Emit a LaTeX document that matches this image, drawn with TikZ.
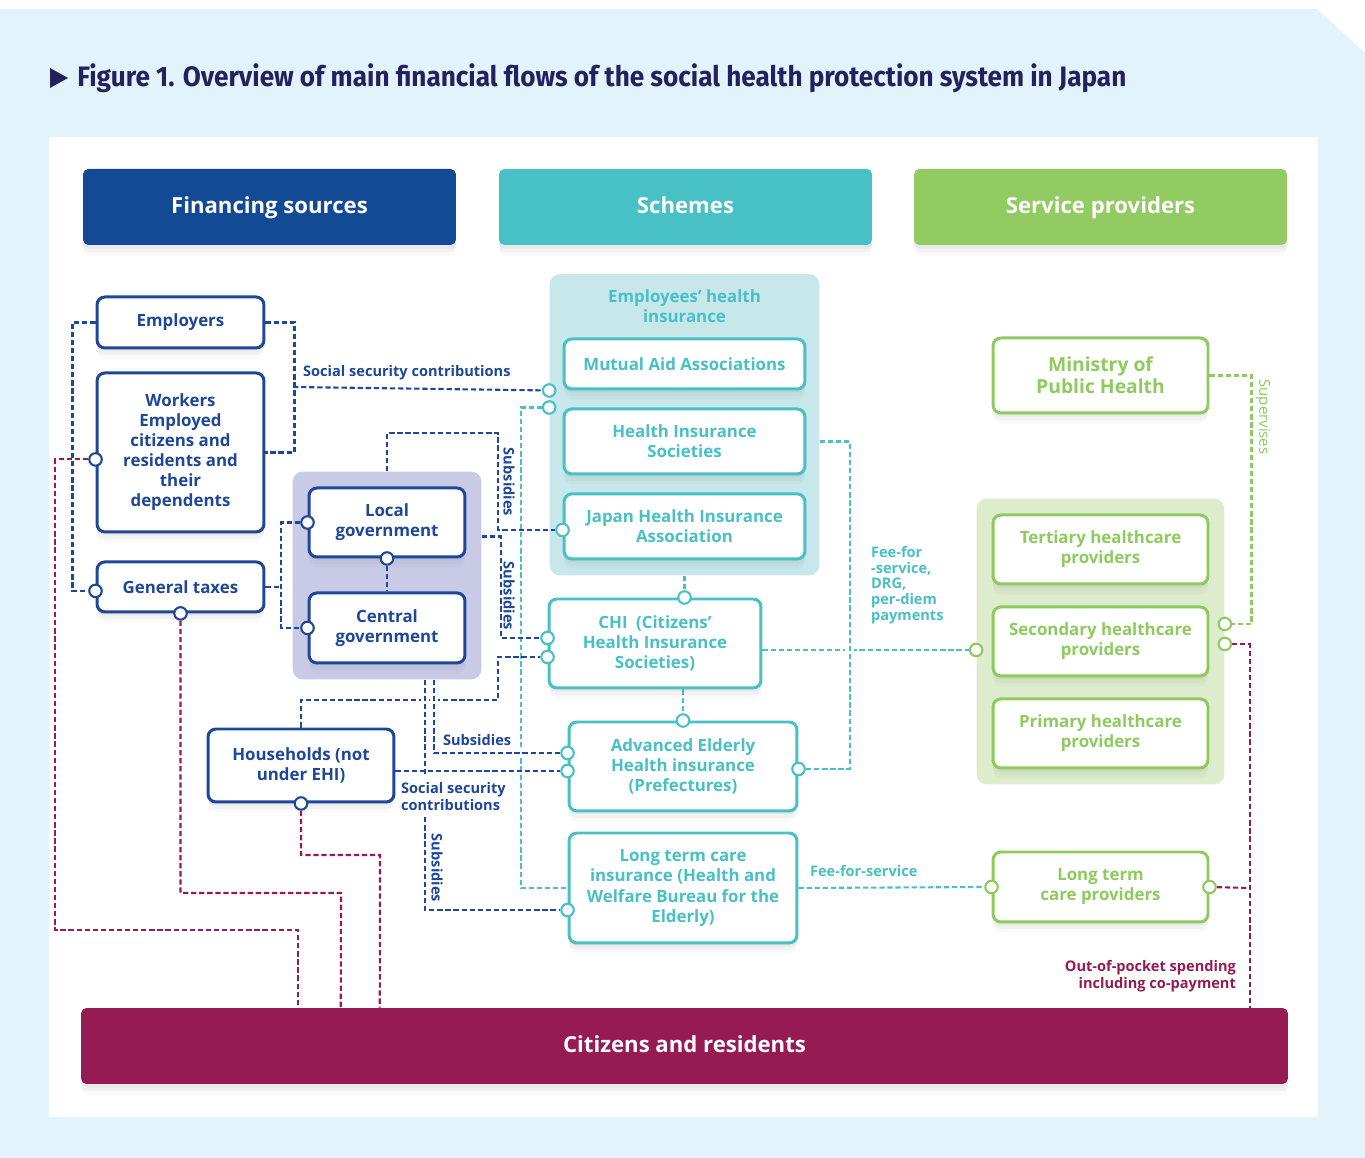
\documentclass[tikz,border=0pt]{standalone}
\usepackage{fontspec}
\setmainfont{Open Sans}
\newfontfamily\titlefont{Fira Sans}
\usepackage{graphicx}
\usepackage{xcolor}
\usetikzlibrary{positioning, fit, backgrounds, calc, shadows}

\definecolor{finblue}{HTML}{134A96}
\definecolor{lineblue}{HTML}{1E4799}
\definecolor{schteal}{HTML}{47C0C6}
\definecolor{provgreen}{HTML}{8DCB5E}
\definecolor{hdrgreen}{HTML}{93CB63}
\definecolor{citmaroon}{HTML}{951B52}
\definecolor{govlav}{HTML}{C8CAE6}
\definecolor{ehiteal}{HTML}{C7E7EA}
\definecolor{provlight}{HTML}{DDECCD}
\definecolor{pageblue}{HTML}{E3F3FB}
\definecolor{titlenavy}{HTML}{22225E}

\pgfdeclarelayer{wires}
\pgfsetlayers{background,wires,main}

\begin{document}
\begin{tikzpicture}[
    x=0.02cm, y=0.02cm,
    font=\fontsize{9.6}{11.4}\selectfont\bfseries,
    softshadow/.style = {drop shadow={shadow xshift=0pt, shadow yshift=-2pt, opacity=0.08},
                         drop shadow={shadow xshift=0pt, shadow yshift=-4pt, opacity=0.06},
                         drop shadow={shadow xshift=0pt, shadow yshift=-6pt, opacity=0.04}},
    box/.style    = {rectangle, draw=#1, line width=1.7pt, rounded corners=4.5pt,
                     fill=white, text=#1, align=center, inner sep=2pt, softshadow},
    header/.style = {rectangle, rounded corners=3pt, fill=#1, text=white,
                     minimum width=7.46cm, minimum height=1.52cm,
                     text height=9.5pt, text depth=2.5pt,
                     font=\fontsize{12.6}{15}\selectfont\bfseries, softshadow},
    group/.style  = {rectangle, rounded corners=6pt, fill=#1, inner sep=0.3cm},
    port/.style   = {circle, draw=#1, fill=white, line width=1.2pt,
                     minimum size=0.25cm, inner sep=0pt},
    flow/.style   = {draw=#1, line width=1.2pt, dash pattern=on 3pt off 1.6pt},
    cross/.style  = {preaction={draw=white, solid, line width=5pt}},
    lbl/.style    = {font=\fontsize{8.3}{9.6}\selectfont\bfseries, text=#1,
                     inner sep=1pt}
]
\useasboundingbox (0,0) rectangle (1365,1158);

% ========= page and panel =========
\begin{scope}[on background layer]
  \fill[pageblue] (0,0) -- (0,1149) -- (1317,1149) -- (1365,1105) -- (1365,0) -- cycle;
  \fill[white] (49,41) rectangle (1318,1021);
\end{scope}

% ========= title =========
\fill[titlenavy] (50,1090) -- (68,1080) -- (50,1070) -- cycle;
\node[anchor=west, text=titlenavy, inner sep=0pt] (title) at (77,1080)
    {\scalebox{0.93}[1]{\titlefont\fontsize{16}{18}\selectfont\bfseries
     Figure 1. Overview of main financial flows of the social health protection system in Japan}};

% ========= column headers =========
\node[header=finblue]   (hfin) at (269.5,951)  {Financing sources};
\node[header=schteal]   (hsch) at (685.5,951)  {Schemes};
\node[header=hdrgreen]  (hser) at (1100.5,951) {Service providers};

% ========= financing sources =========
\node[box=lineblue, minimum width=3.34cm, minimum height=1.02cm] (employers) at (180.5,835.5) {Employers};
\node[box=lineblue, minimum width=3.34cm, minimum height=3.18cm, below=0.44cm of employers] (workers)
    {Workers\\Employed\\citizens and\\residents and\\their\\dependents};
\node[box=lineblue, minimum width=3.34cm, minimum height=1.0cm, below=0.54cm of workers] (taxes) {General taxes};
\node[box=lineblue, minimum width=3.12cm, minimum height=1.38cm] (local) at (387,635.5) {Local\\government};
\node[box=lineblue, minimum width=3.12cm, minimum height=1.40cm, below=0.66cm of local] (central) {Central\\government};
\node[box=lineblue, minimum width=3.72cm, minimum height=1.46cm] (households) at (301,392.5) {Households (not\\under EHI)};

% ========= schemes =========
\node[text=schteal, inner sep=0pt, align=center] (ehititle) at (684.5,852) {Employees’ health\\insurance};
\node[box=schteal, minimum width=4.82cm, minimum height=1.0cm] (mutual) at (684.5,794) {Mutual Aid Associations};
\node[box=schteal, minimum width=4.82cm, minimum height=1.3cm, below=0.34cm of mutual] (his) {Health Insurance\\Societies};
\node[box=schteal, minimum width=4.82cm, minimum height=1.3cm, below=0.34cm of his] (jhia) {Japan Health Insurance\\Association};
\node[box=schteal, minimum width=4.24cm, minimum height=1.78cm] (chi) at (655,514.5) {CHI\enspace(Citizens’\\Health Insurance\\Societies)};
\node[box=schteal, minimum width=4.56cm, minimum height=1.78cm] (aeh) at (683,391.5) {Advanced Elderly\\Health insurance\\(Prefectures)};
\node[box=schteal, minimum width=4.56cm, minimum height=2.2cm] (ltci) at (683,270)
    {Long term care\\insurance (Health and\\Welfare Bureau for the\\Elderly)};

% ========= service providers =========
\node[box=provgreen, minimum width=4.3cm, minimum height=1.5cm, font=\fontsize{11}{12.6}\selectfont\bfseries] (ministry)
    at (1100.5,782.5) {Ministry of\\Public Health};
\node[box=provgreen, minimum width=4.3cm, minimum height=1.38cm] (tertiary) at (1100.5,608.5) {Tertiary healthcare\\providers};
\node[box=provgreen, minimum width=4.3cm, minimum height=1.38cm, below=0.4cm of tertiary] (secondary) {Secondary healthcare\\providers};
\node[box=provgreen, minimum width=4.3cm, minimum height=1.38cm, below=0.4cm of secondary] (primary) {Primary healthcare\\providers};
\node[box=provgreen, minimum width=4.3cm, minimum height=1.4cm] (ltcp) at (1100.5,271) {Long term\\care providers};

% ========= citizens =========
\node[header=citmaroon, minimum width=24.14cm] (citizens) at (684.5,112) {Citizens and residents};

% ========= group frames =========
\begin{scope}[on background layer]
  \node[group=govlav, fit=(local)(central)] (govgrp) {};
  \node[group=ehiteal, inner xsep=0.26cm, fit=(ehititle)(mutual)(jhia)] (ehigrp) {};
  \node[group=provlight, fit=(tertiary)(primary)] (provgrp) {};
\end{scope}

% ========= ports =========
\node[port=lineblue]  (pwork)   at ([yshift=-0.14cm]workers.west) {};
\node[port=lineblue]  (ptaxl)   at ([yshift=-0.08cm]taxes.west) {};
\node[port=lineblue]  (ptaxb)   at (taxes.south) {};
\node[port=lineblue]  (plocl)   at (local.west) {};
\node[port=lineblue]  (pcenl)   at (central.west) {};
\node[port=lineblue]  (plocb)   at (local.south) {};
\node[port=lineblue]  (phoub)   at (households.south) {};
\node[port=schteal]   (pmutl)   at (ehigrp.west |- mutual.south) {};
\node[port=schteal]   (pehil)   at (ehigrp.west |- his.north) {};
\node[port=schteal]   (pjapl)   at ([yshift=-0.07cm]jhia.west) {};
\node[port=schteal]   (pchit)   at (chi.north -| ehigrp.south) {};
\node[port=schteal]   (pchil1)  at ([yshift=0.11cm]chi.west) {};
\node[port=schteal]   (pchil2)  at ([yshift=-0.27cm]chi.west) {};
\node[port=schteal]   (paeht)   at (aeh.north) {};
\node[port=schteal]   (paehl1)  at ([yshift=0.27cm]aeh.west) {};
\node[port=schteal]   (paehl2)  at ([yshift=-0.09cm]aeh.west) {};
\node[port=schteal]   (paehr)   at ([yshift=-0.05cm]aeh.east) {};
\node[port=schteal]   (pltcl)   at ([yshift=-0.44cm]ltci.west) {};
\node[port=provgreen] (pprovl)  at ([yshift=-0.17cm]provgrp.west) {};
\node[port=provgreen] (pprovr1) at ([yshift=0.35cm]provgrp.east) {};
\node[port=provgreen] (pprovr2) at ([yshift=-0.05cm]provgrp.east) {};
\node[port=provgreen] (pltcpl)  at (ltcp.west) {};
\node[port=provgreen] (pltcpr)  at (ltcp.east) {};

\coordinate (sscj) at (293,771);
\coordinate (gtj)  at (281,578);
\coordinate (oopj) at (1250,270);

% ========= flows =========
\begin{pgfonlayer}{wires}
  % teal: schemes
  \draw[flow=schteal] (pehil) -| (521,270) -- (ltci.west);
  \draw[flow=schteal] (ehigrp.south) -- (pchit);
  \draw[flow=schteal] (chi.south -| paeht) -- (paeht);
  \draw[flow=schteal] (chi.east |- pprovl) -- (pprovl);
  \draw[flow=schteal, cross] (his.east -| ehigrp.east) -- ++(30,0) |- (paehr);
  \draw[flow=schteal] (ltci.east) -- (pltcpl);
  % blue: financing
  \draw[flow=lineblue] (employers.east) -- ++(29,0) |- (workers.east);
  \draw[flow=lineblue] (sscj) -- (pmutl);
  \draw[flow=lineblue] (employers.west) -- ++(-23,0) |- (ptaxl);
  \draw[flow=lineblue] (taxes.east) -- (taxes.east -| gtj);
  \draw[flow=lineblue] (plocl) -| (gtj) |- (pcenl);
  \draw[flow=lineblue] (plocb) -- (central.north);
  \draw[flow=lineblue] (govgrp.north) |- (498,725) |- (pjapl);
  \draw[flow=lineblue] ($(govgrp.east |- local.east)+(0,-14)$) -- ++(19,0) |- (pchil1);
  \draw[flow=lineblue] (households.north) |- (498,458) |- (pchil2);
  \draw[flow=lineblue, cross] ($(govgrp.south)+(38,0)$) |- (pltcl);
  \draw[flow=lineblue, cross] ($(govgrp.south)+(47,0)$) |- (paehl1);
  \draw[flow=lineblue] (households.east |- paehl2) -- (paehl2);
  % green: supervision
  \draw[flow=provgreen] (ministry.east) -- ++(42,0) |- (pprovr1);
  % maroon: out of pocket
  \draw[flow=citmaroon] (pwork) -| (55,228) -| ($(citizens.north west)+(217,0)$);
  \draw[flow=citmaroon] (ptaxb) |- (341,265) -- ($(citizens.north west)+(260,0)$);
  \draw[flow=citmaroon] (phoub) |- (380,303) -- ($(citizens.north west)+(299,0)$);
  \draw[flow=citmaroon] (pprovr2) -| ($(citizens.north west)+(1169,0)$);
  \draw[flow=citmaroon] (pltcpr) -- (oopj);
\end{pgfonlayer}

% ========= flow labels =========
\node[lbl=lineblue, anchor=south west] (sscl) at ([xshift=0.16cm,yshift=0.1cm]sscj) {Social security contributions};
\node[lbl=lineblue, rotate=-90] (sub1) at (509,676) {Subsidies};
\node[lbl=lineblue, rotate=-90] (sub2) at (509,562) {Subsidies};
\node[lbl=lineblue, anchor=west] (sub3) at (441,418) {Subsidies};
\node[lbl=lineblue, rotate=-90, fill=white] (sub4) at (437,290) {Subsidies};
\node[lbl=lineblue, anchor=north west, align=left, fill=white, inner ysep=3pt] (ssc2) at (399,381)
    {Social security\\contributions};
\node[lbl=schteal, anchor=north west, align=left, font=\fontsize{8.3}{9}\selectfont\bfseries] (feel) at (869,614)
    {Fee-for\\-service,\\DRG,\\per-diem\\payments};
\node[lbl=schteal, anchor=south west] (ffs) at (808,279) {Fee-for-service};
\node[lbl=provgreen, rotate=-90, font=\fontsize{8.5}{9.6}\selectfont] (supl) at (1263,741) {Supervises};
\node[lbl=citmaroon, anchor=east, align=right] (oopl) at (1238,182)
    {Out-of-pocket spending\\including co-payment};

\end{tikzpicture}
\end{document}
